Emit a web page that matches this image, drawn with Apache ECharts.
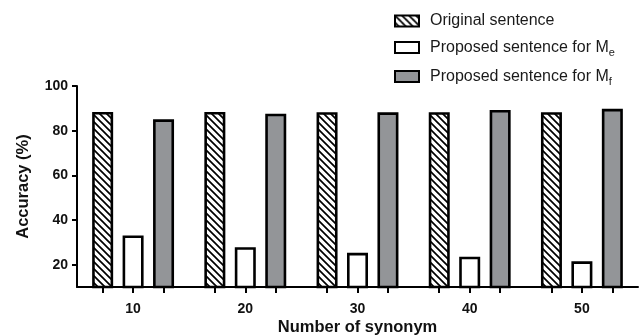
<!DOCTYPE html>
<html>
<head>
<meta charset="utf-8">
<script src="https://cdn.jsdelivr.net/npm/echarts@6/dist/echarts.min.js"></script>
<style>html,body{margin:0;padding:0;background:#fff}#c{width:644px;height:335px}</style>
</head>
<body>
<div id="c"></div>
<script>
const categories = ['10', '20', '30', '40', '50'];
const seriesNames = ['Original sentence', 'Proposed sentence for Me', 'Proposed sentence for Mf'];
const original = [88.4, 88.4, 88.3, 88.3, 88.3];
const proposedMe = [33.1, 27.8, 25.3, 23.6, 21.5];
const proposedMf = [85.1, 87.6, 88.2, 89.3, 89.8];
const yTicks = [20, 40, 60, 80, 100];

function hatch() {
  const s = 7;
  const c = document.createElement('canvas');
  c.width = s; c.height = s;
  const g = c.getContext('2d');
  g.fillStyle = '#fff'; g.fillRect(0, 0, s, s);
  g.strokeStyle = '#000'; g.lineWidth = 1.7;
  g.beginPath();
  g.moveTo(-1, -1); g.lineTo(s + 1, s + 1);
  g.moveTo(-1 - s, -1); g.lineTo(1, s + 1);
  g.moveTo(s - 1, -1); g.lineTo(2 * s + 1, s + 1);
  g.stroke();
  return c;
}

const chart = echarts.init(document.getElementById('c'), null, {renderer: 'canvas'});
const font = 'Liberation Sans, Arial, sans-serif';
const bandFrac = 0.2715;
const barTicks = [];
categories.forEach((c, i) => { barTicks.push(i + 0.5 - bandFrac, i + 0.5, i + 0.5 + bandFrac); });

const border = {borderColor: '#000', borderWidth: 2.6};
chart.setOption({
  animation: false,
  textStyle: {fontFamily: font},
  legend: {
    orient: 'vertical', left: 394, top: 13, padding: 0, icon: 'rect',
    itemWidth: 24, itemHeight: 11, itemGap: 10.5,
    textStyle: {fontSize: 16, color: '#1a1a1a', fontFamily: font, padding: [0, 0, 0, 6],
      rich: {s: {fontSize: 11, padding: [10, 0, 0, 0], fontFamily: font, color: '#1a1a1a'}}},
    formatter: function (n) { return n.replace(/M([ef])$/, 'M{s|$1}'); },
    data: seriesNames
  },
  grid: {left: 77, right: 6, top: 86, bottom: 48, containLabel: false, outerBoundsMode: 'none'},
  xAxis: [{
    type: 'category', data: categories,
    axisLine: {lineStyle: {color: '#000', width: 2}},
    axisTick: {show: false},
    axisLabel: {fontSize: 14, fontWeight: 'bold', color: '#111', margin: 15, fontFamily: font},
    name: 'Number of synonym', nameLocation: 'middle', nameGap: 32, nameMoveOverlap: false,
    nameTextStyle: {fontSize: 16.5, fontWeight: 'bold', color: '#111', fontFamily: font}
  }, {
    type: 'value', min: 0, max: categories.length, position: 'bottom',
    axisLine: {show: false}, axisLabel: {show: false}, splitLine: {show: false},
    axisTick: {show: true, length: 6, customValues: barTicks, lineStyle: {color: '#000', width: 2}}
  }],
  yAxis: {
    type: 'value', min: 10, max: 100, interval: 10,
    axisLine: {show: true, lineStyle: {color: '#000', width: 2}},
    axisTick: {show: true, length: 5, customValues: yTicks, lineStyle: {color: '#000', width: 2}},
    axisLabel: {fontSize: 14, fontWeight: 'bold', color: '#111', margin: 9, customValues: yTicks, fontFamily: font},
    splitLine: {show: false},
    name: 'Accuracy (%)', nameLocation: 'middle', nameGap: 45, nameMoveOverlap: false,
    nameTextStyle: {fontSize: 16.5, fontWeight: 'bold', color: '#111', fontFamily: font}
  },
  series: [
    {name: seriesNames[0], type: 'bar', data: original, barWidth: 21, barGap: '45%',
     itemStyle: Object.assign({color: {image: hatch(), repeat: 'repeat'}}, border)},
    {name: seriesNames[1], type: 'bar', data: proposedMe, barWidth: 21, barGap: '45%',
     itemStyle: Object.assign({color: '#ffffff'}, border)},
    {name: seriesNames[2], type: 'bar', data: proposedMf, barWidth: 21, barGap: '45%',
     itemStyle: Object.assign({color: '#939598'}, border)}
  ]
});
</script>
</body>
</html>
